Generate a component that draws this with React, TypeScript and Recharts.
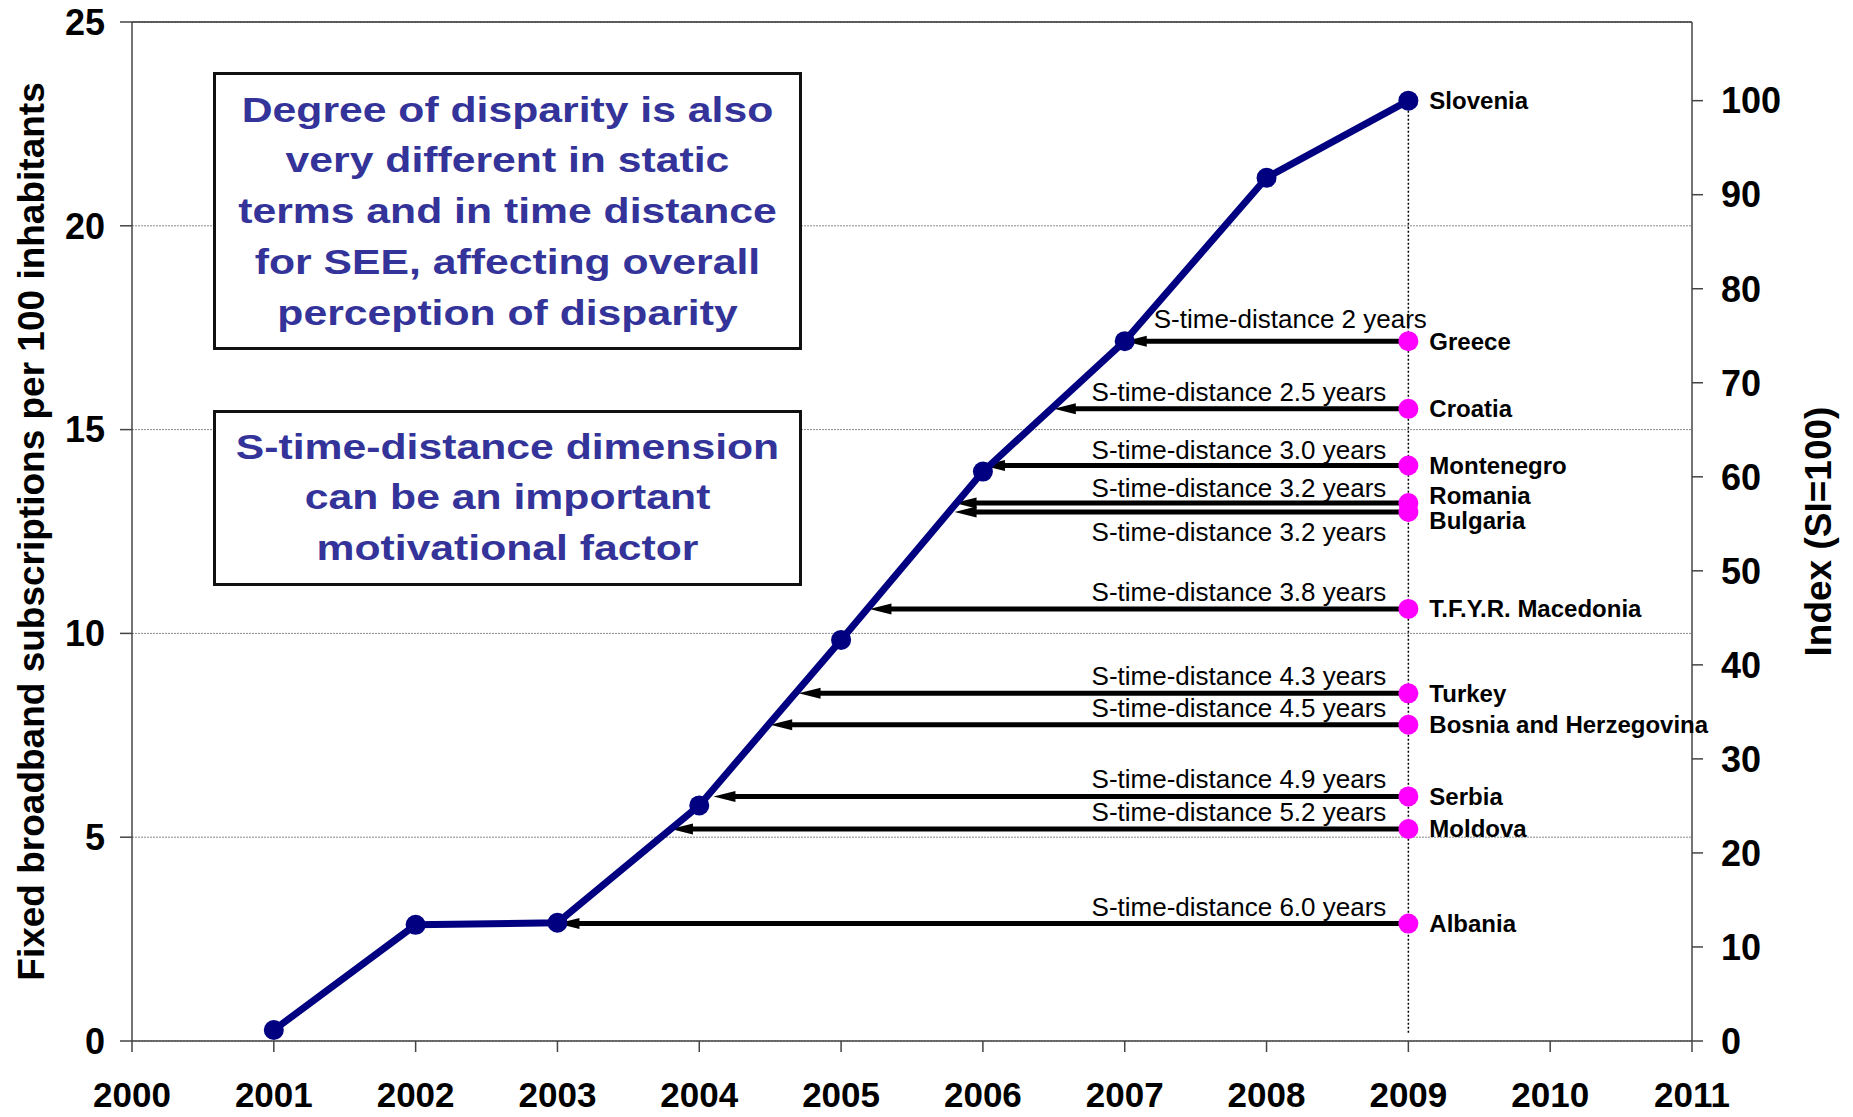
import React from 'react';
import {
  ComposedChart,
  Line,
  XAxis,
  YAxis,
  CartesianGrid,
  ReferenceLine,
  ReferenceDot,
  Label,
} from 'recharts';

const FONT = '"Liberation Sans", Arial, Helvetica, sans-serif';

// ---------- data ----------
const YEARS = [2001, 2002, 2003, 2004, 2005, 2006, 2007, 2008, 2009];
const SLOVENIA = [0.27, 2.85, 2.9, 5.78, 9.84, 13.97, 17.17, 21.18, 23.07];
const REFERENCE_YEAR = 2009;
const LEADER_NAME = 'Slovenia';

const X_TICKS = [2000, 2001, 2002, 2003, 2004, 2005, 2006, 2007, 2008, 2009, 2010, 2011];
const LEFT_TICKS = [0, 5, 10, 15, 20, 25];
const RIGHT_TICKS = [0, 10, 20, 30, 40, 50, 60, 70, 80, 90, 100];

const COUNTRIES = [
  'Greece',
  'Croatia',
  'Montenegro',
  'Romania',
  'Bulgaria',
  'T.F.Y.R. Macedonia',
  'Turkey',
  'Bosnia and Herzegovina',
  'Serbia',
  'Moldova',
  'Albania',
];
const COUNTRY_VALUES = [17.17, 15.51, 14.12, 13.2, 12.98, 10.6, 8.53, 7.76, 6.0, 5.2, 2.88];
const TIME_DISTANCE = [2, 2.5, 3.0, 3.2, 3.2, 3.8, 4.3, 4.5, 4.9, 5.2, 6.0];
const TIME_DISTANCE_LABELS = ['2', '2.5', '3.0', '3.2', '3.2', '3.8', '4.3', '4.5', '4.9', '5.2', '6.0'];

const LEFT_TITLE = 'Fixed broadband subscriptions per 100 inhabitants';
const RIGHT_TITLE = 'Index (SI=100)';

const BOX1_LINES = [
  'Degree of disparity is also',
  'very different in static',
  'terms and in time distance',
  'for SEE, affecting overall',
  'perception of disparity',
];
const BOX2_LINES = ['S-time-distance dimension', 'can be an important', 'motivational factor'];

// ---------- layout tweaks (not data) ----------
const ANNOT_DY: Record<string, number> = { Greece: -13, Montenegro: -6, Romania: -6, Bulgaria: 29 };
const NAME_DY: Record<string, number> = { Romania: -7, Bulgaria: 9 };

const INDEX_MAX = (25 * 100) / SLOVENIA[SLOVENIA.length - 1];

const lineData = YEARS.map((year, i) => ({ year, value: SLOVENIA[i] }));

const ArrowShape = (props: any) => {
  const { x1, y1, x2, y2, text, anchor, dy } = props;
  const dir = x2 < x1 ? 1 : -1;
  const headLen = 22;
  const halfW = 5.5;
  const tx = anchor === 'start' ? x2 + 29 : x1 - 22;
  return (
    <g>
      <line x1={x1} y1={y1} x2={x2 + dir * (headLen - 3)} y2={y2} stroke="#000" strokeWidth={5} />
      <polygon
        points={`${x2},${y2} ${x2 + dir * headLen},${y2 - halfW} ${x2 + dir * headLen},${y2 + halfW}`}
        fill="#000"
      />
      <text
        x={tx}
        y={y1 + dy}
        textAnchor={anchor}
        fontSize={26}
        fontFamily={FONT}
        fill="#000"
      >
        {text}
      </text>
    </g>
  );
};

const CountryDot = (props: any) => {
  const { cx, cy, name, color, nudge, showDot } = props;
  return (
    <g>
      {showDot && <circle cx={cx} cy={cy} r={10} fill={color} />}
      <text
        x={cx + 21}
        y={cy + nudge}
        dy="0.35em"
        fontSize={24}
        fontWeight={700}
        fontFamily={FONT}
        fill="#000"
      >
        {name}
      </text>
    </g>
  );
};

const LeftTitle = (props: any) => {
  const { viewBox } = props;
  const x = viewBox.x + 31;
  const y = viewBox.y + viewBox.height / 2;
  return (
    <text
      x={x}
      y={y}
      transform={`rotate(-90, ${x}, ${y})`}
      textAnchor="middle"
      dy="0.36em"
      fontSize={37}
      fontWeight={700}
      fontFamily={FONT}
      fill="#000"
    >
      {LEFT_TITLE}
    </text>
  );
};

const RightTitle = (props: any) => {
  const { viewBox } = props;
  const x = viewBox.x + viewBox.width - 35;
  const y = viewBox.y + viewBox.height / 2;
  return (
    <text
      x={x}
      y={y}
      transform={`rotate(-90, ${x}, ${y})`}
      textAnchor="middle"
      dy="0.36em"
      fontSize={37}
      fontWeight={700}
      fontFamily={FONT}
      fill="#000"
    >
      {RIGHT_TITLE}
    </text>
  );
};

const TextBox = ({
  lines,
  left,
  top,
  width,
  height,
  padTop,
}: {
  lines: string[];
  left: number;
  top: number;
  width: number;
  height: number;
  padTop: number;
}) => (
  <div
    style={{
      position: 'absolute',
      left,
      top,
      width,
      height,
      boxSizing: 'border-box',
      border: '3px solid #111',
      background: '#fff',
      paddingTop: padTop,
      textAlign: 'center',
      fontFamily: FONT,
      fontWeight: 700,
      fontSize: 35,
      lineHeight: '50.8px',
      color: '#333399',
    }}
  >
    {lines.map((l) => (
      <div
        key={l}
        style={{ whiteSpace: 'nowrap', transform: 'scaleX(1.22)', transformOrigin: 'center' }}
      >
        {l}
      </div>
    ))}
  </div>
);

export default function App() {
  const tickStyle = { fontSize: 36, fontWeight: 700, fill: '#000', fontFamily: FONT };
  return (
    <div style={{ position: 'absolute', left: 0, top: 0, width: 1853, height: 1117, background: '#fff' }}>
      <ComposedChart
        width={1853}
        height={1117}
        data={lineData}
        margin={{ top: 22, right: 0, left: 0, bottom: 0 }}
      >
        <CartesianGrid
          yAxisId="left"
          vertical={false}
          stroke="#8a8a8a"
          strokeDasharray="2 1"
          strokeWidth={1}
        />
        <XAxis
          dataKey="year"
          type="number"
          domain={[2000, 2011]}
          ticks={X_TICKS}
          interval={0}
          height={76}
          tickSize={11}
          tickMargin={30}
          tick={{ ...tickStyle, fontSize: 35 }}
          axisLine={{ stroke: '#444', strokeWidth: 1.5 }}
          tickLine={{ stroke: '#444', strokeWidth: 1.5 }}
        />
        <YAxis
          yAxisId="left"
          type="number"
          domain={[0, 25]}
          ticks={LEFT_TICKS}
          interval={0}
          width={132}
          tickSize={12}
          tickMargin={15}
          tick={tickStyle}
          axisLine={{ stroke: '#444', strokeWidth: 1.5 }}
          tickLine={{ stroke: '#444', strokeWidth: 1.5 }}
        >
          <Label content={<LeftTitle />} />
        </YAxis>
        <YAxis
          yAxisId="right"
          orientation="right"
          type="number"
          domain={[0, INDEX_MAX]}
          allowDataOverflow
          ticks={RIGHT_TICKS}
          interval={0}
          width={161}
          tickSize={11}
          tickMargin={18}
          tick={{ ...tickStyle, textAnchor: 'start' }}
          axisLine={{ stroke: '#444', strokeWidth: 1.5 }}
          tickLine={{ stroke: '#444', strokeWidth: 1.5 }}
        >
          <Label content={<RightTitle />} />
        </YAxis>

        <ReferenceLine yAxisId="left" y={25} stroke="#333" strokeWidth={1.5} />

        <ReferenceLine
          yAxisId="left"
          segment={[
            { x: REFERENCE_YEAR, y: 0.2 },
            { x: REFERENCE_YEAR, y: SLOVENIA[SLOVENIA.length - 1] },
          ]}
          stroke="#000"
          strokeWidth={1.5}
          strokeDasharray="2 2"
        />

        {COUNTRIES.map((c, i) => (
          <ReferenceLine
            key={'arrow-' + c}
            yAxisId="left"
            segment={[
              { x: REFERENCE_YEAR, y: COUNTRY_VALUES[i] },
              { x: REFERENCE_YEAR - TIME_DISTANCE[i], y: COUNTRY_VALUES[i] },
            ]}
            shape={(p: any) => (
              <ArrowShape
                {...p}
                text={`S-time-distance ${TIME_DISTANCE_LABELS[i]} years`}
                anchor={c === 'Greece' ? 'start' : 'end'}
                dy={ANNOT_DY[c] ?? -8}
              />
            )}
          />
        ))}

        <Line
          yAxisId="left"
          dataKey="value"
          stroke="#000080"
          strokeWidth={7}
          dot={{ r: 10, fill: '#000080', stroke: '#000080', strokeWidth: 0 }}
          activeDot={false}
          isAnimationActive={false}
        />

        {COUNTRIES.map((c, i) => (
          <ReferenceDot
            key={'dot-' + c}
            yAxisId="left"
            x={REFERENCE_YEAR}
            y={COUNTRY_VALUES[i]}
            r={10}
            shape={(p: any) => (
              <CountryDot {...p} name={c} color="#FF00FF" nudge={NAME_DY[c] ?? 0} showDot />
            )}
          />
        ))}

        <ReferenceDot
          yAxisId="left"
          x={REFERENCE_YEAR}
          y={SLOVENIA[SLOVENIA.length - 1]}
          r={10}
          shape={(p: any) => <CountryDot {...p} name={LEADER_NAME} color="#000080" nudge={0} showDot={false} />}
        />
      </ComposedChart>

      <TextBox lines={BOX1_LINES} left={213} top={72} width={589} height={278} padTop={9.5} />
      <TextBox lines={BOX2_LINES} left={213} top={410} width={589} height={176} padTop={8.5} />
    </div>
  );
}
